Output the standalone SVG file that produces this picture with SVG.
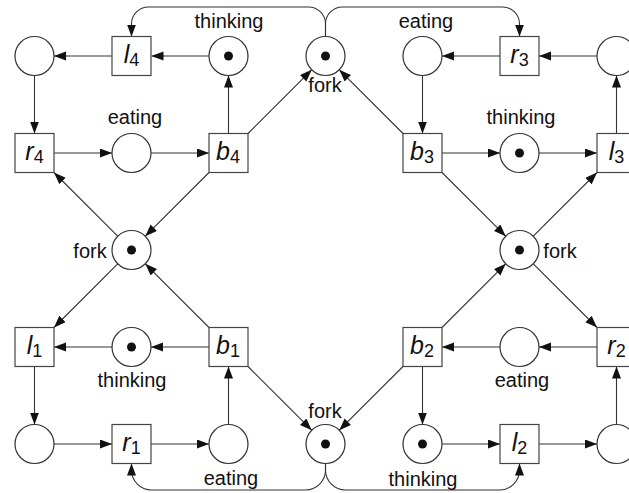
<svg xmlns="http://www.w3.org/2000/svg" width="629" height="493" viewBox="0 0 629 493">
<defs>
<marker id="ah" markerUnits="userSpaceOnUse" markerWidth="12" markerHeight="10" refX="12" refY="4.5" orient="auto">
<path d="M0,0 L12,4.5 L0,9 z" fill="#111"/>
</marker>
<style>
.p{fill:#fff;stroke:#333;stroke-width:1.2}
.t{fill:#fff;stroke:#444;stroke-width:1.2}
.k{fill:#111;stroke:none}
.e{fill:none;stroke:#333;stroke-width:1.1;marker-end:url(#ah)}
.lb{font-family:"Liberation Sans",Arial,Helvetica,sans-serif;font-size:20px;fill:#111;text-anchor:middle}
.tl{font-family:"Liberation Sans",Arial,Helvetica,sans-serif;fill:#111;text-anchor:middle}
.it{font-style:italic;font-size:25px}
.sb{font-size:18px}
</style>
</defs>
<rect width="629" height="493" fill="#fff"/>

<g id="connectors">
<!-- top-left quadrant -->
<line class="e" x1="209" y1="56" x2="151.5" y2="56"/>
<line class="e" x1="112" y1="56" x2="54" y2="56"/>
<line class="e" x1="34.5" y1="75.5" x2="34.5" y2="133.5"/>
<line class="e" x1="54" y1="153" x2="112" y2="153"/>
<line class="e" x1="151" y1="153" x2="209" y2="153"/>
<line class="e" x1="228.5" y1="133.5" x2="228.5" y2="75.5"/>
<!-- top-right quadrant -->
<line class="e" x1="597" y1="56" x2="539" y2="56"/>
<line class="e" x1="500" y1="56" x2="442" y2="56"/>
<line class="e" x1="422.5" y1="75.5" x2="422.5" y2="133.5"/>
<line class="e" x1="442" y1="153" x2="500" y2="153"/>
<line class="e" x1="539" y1="153" x2="597" y2="153"/>
<line class="e" x1="616.5" y1="133.5" x2="616.5" y2="75.5"/>
<!-- bottom-left quadrant -->
<line class="e" x1="209" y1="347" x2="151" y2="347"/>
<line class="e" x1="112" y1="347" x2="54" y2="347"/>
<line class="e" x1="34.5" y1="366.5" x2="34.5" y2="424.5"/>
<line class="e" x1="54" y1="444" x2="112" y2="444"/>
<line class="e" x1="151" y1="444" x2="209" y2="444"/>
<line class="e" x1="228.5" y1="424.5" x2="228.5" y2="366.5"/>
<!-- bottom-right quadrant -->
<line class="e" x1="597" y1="347" x2="539" y2="347"/>
<line class="e" x1="500" y1="347" x2="442" y2="347"/>
<line class="e" x1="422.5" y1="366.5" x2="422.5" y2="424.5"/>
<line class="e" x1="442" y1="444" x2="500" y2="444"/>
<line class="e" x1="539" y1="444" x2="597" y2="444"/>
<line class="e" x1="616.5" y1="424.5" x2="616.5" y2="366.5"/>
<!-- diagonals -->
<line class="e" x1="248" y1="133.5" x2="311.7" y2="69.8"/>
<line class="e" x1="209" y1="172.5" x2="145.3" y2="236.2"/>
<line class="e" x1="117.7" y1="236.2" x2="54" y2="172.5"/>
<line class="e" x1="117.7" y1="263.8" x2="54" y2="327.5"/>
<line class="e" x1="209" y1="327.5" x2="145.3" y2="263.8"/>
<line class="e" x1="248" y1="366.5" x2="311.7" y2="430.2"/>
<line class="e" x1="403" y1="366.5" x2="339.3" y2="430.2"/>
<line class="e" x1="442" y1="327.5" x2="505.7" y2="263.8"/>
<line class="e" x1="533.3" y1="263.8" x2="597" y2="327.5"/>
<line class="e" x1="533.3" y1="236.2" x2="597" y2="172.5"/>
<line class="e" x1="442" y1="172.5" x2="505.7" y2="236.2"/>
<line class="e" x1="403" y1="133.5" x2="339.3" y2="69.8"/>
<!-- curved arcs -->
<path class="e" d="M325.5,36.5 L325.5,24 A17,17 0 0 0 308.5,7 L148.5,7 A17,17 0 0 0 131.5,24 L131.5,36.5"/>
<path class="e" d="M325.5,36.5 L325.5,24 A17,17 0 0 1 342.5,7 L502.5,7 A17,17 0 0 1 519.5,24 L519.5,36.5"/>
<path class="e" d="M325.5,463.5 L325.5,470 A20,20 0 0 1 305.5,490 L151.5,490 A20,20 0 0 1 131.5,470 L131.5,463.5"/>
<path class="e" d="M325.5,463.5 L325.5,470 A20,20 0 0 0 345.5,490 L499.5,490 A20,20 0 0 0 519.5,470 L519.5,463.5"/>
</g>

<!-- places -->
<g id="p-tl-free"><circle class="p" cx="34.5" cy="56" r="19.5"/></g>
<g id="p-thinking4"><circle class="p" cx="228.5" cy="56" r="19.5"/><circle class="k" cx="228.5" cy="56" r="4.5"/><text class="lb" x="229" y="28">thinking</text></g>
<g id="p-fork-top"><circle class="p" cx="325.5" cy="56" r="19.5"/><circle class="k" cx="325.5" cy="56" r="4.5"/><text class="lb" x="325" y="92">fork</text></g>
<g id="p-eating3"><circle class="p" cx="422.5" cy="56" r="19.5"/><text class="lb" x="426" y="28">eating</text></g>
<g id="p-tr-free"><circle class="p" cx="616.5" cy="56" r="19.5"/></g>
<g id="p-eating4"><circle class="p" cx="131.5" cy="153" r="19.5"/><text class="lb" x="135" y="124">eating</text></g>
<g id="p-thinking3"><circle class="p" cx="519.5" cy="153" r="19.5"/><circle class="k" cx="519.5" cy="153" r="4.5"/><text class="lb" x="521" y="124">thinking</text></g>
<g id="p-fork-left"><circle class="p" cx="131.5" cy="250" r="19.5"/><circle class="k" cx="131.5" cy="250" r="4.5"/><text class="lb" x="90" y="258">fork</text></g>
<g id="p-fork-right"><circle class="p" cx="519.5" cy="250" r="19.5"/><circle class="k" cx="519.5" cy="250" r="4.5"/><text class="lb" x="560" y="258">fork</text></g>
<g id="p-thinking1"><circle class="p" cx="131.5" cy="347" r="19.5"/><circle class="k" cx="131.5" cy="347" r="4.5"/><text class="lb" x="132" y="387">thinking</text></g>
<g id="p-eating2"><circle class="p" cx="519.5" cy="347" r="19.5"/><text class="lb" x="522" y="387">eating</text></g>
<g id="p-bl-free"><circle class="p" cx="34.5" cy="444" r="19.5"/></g>
<g id="p-eating1"><circle class="p" cx="228.5" cy="444" r="19.5"/><text class="lb" x="231" y="485">eating</text></g>
<g id="p-fork-bottom"><circle class="p" cx="325.5" cy="444" r="19.5"/><circle class="k" cx="325.5" cy="444" r="4.5"/><text class="lb" x="325" y="418">fork</text></g>
<g id="p-thinking2"><circle class="p" cx="422.5" cy="444" r="19.5"/><circle class="k" cx="422.5" cy="444" r="4.5"/><text class="lb" x="423" y="486">thinking</text></g>
<g id="p-br-free"><circle class="p" cx="616.5" cy="444" r="19.5"/></g>

<!-- transitions -->
<g id="t-l4"><rect class="t" x="112" y="36.5" width="39" height="39"/><text class="tl" x="131.5" y="63"><tspan class="it">l</tspan><tspan class="sb" dy="3">4</tspan></text></g>
<g id="t-r3"><rect class="t" x="500" y="36.5" width="39" height="39"/><text class="tl" x="519.5" y="63"><tspan class="it">r</tspan><tspan class="sb" dy="3">3</tspan></text></g>
<g id="t-r4"><rect class="t" x="15" y="133.5" width="39" height="39"/><text class="tl" x="34.5" y="160"><tspan class="it">r</tspan><tspan class="sb" dy="3">4</tspan></text></g>
<g id="t-b4"><rect class="t" x="209" y="133.5" width="39" height="39"/><text class="tl" x="228" y="160"><tspan class="it">b</tspan><tspan class="sb" dy="3">4</tspan></text></g>
<g id="t-b3"><rect class="t" x="403" y="133.5" width="39" height="39"/><text class="tl" x="422" y="160"><tspan class="it">b</tspan><tspan class="sb" dy="3">3</tspan></text></g>
<g id="t-l3"><rect class="t" x="597" y="133.5" width="39" height="39"/><text class="tl" x="616.5" y="160"><tspan class="it">l</tspan><tspan class="sb" dy="3">3</tspan></text></g>
<g id="t-l1"><rect class="t" x="15" y="327.5" width="39" height="39"/><text class="tl" x="34.5" y="354"><tspan class="it">l</tspan><tspan class="sb" dy="3">1</tspan></text></g>
<g id="t-b1"><rect class="t" x="209" y="327.5" width="39" height="39"/><text class="tl" x="228" y="354"><tspan class="it">b</tspan><tspan class="sb" dy="3">1</tspan></text></g>
<g id="t-b2"><rect class="t" x="403" y="327.5" width="39" height="39"/><text class="tl" x="422" y="354"><tspan class="it">b</tspan><tspan class="sb" dy="3">2</tspan></text></g>
<g id="t-r2"><rect class="t" x="597" y="327.5" width="39" height="39"/><text class="tl" x="616.5" y="354"><tspan class="it">r</tspan><tspan class="sb" dy="3">2</tspan></text></g>
<g id="t-r1"><rect class="t" x="112" y="424.5" width="39" height="39"/><text class="tl" x="131.5" y="451"><tspan class="it">r</tspan><tspan class="sb" dy="3">1</tspan></text></g>
<g id="t-l2"><rect class="t" x="500" y="424.5" width="39" height="39"/><text class="tl" x="519.5" y="451"><tspan class="it">l</tspan><tspan class="sb" dy="3">2</tspan></text></g>
</svg>
